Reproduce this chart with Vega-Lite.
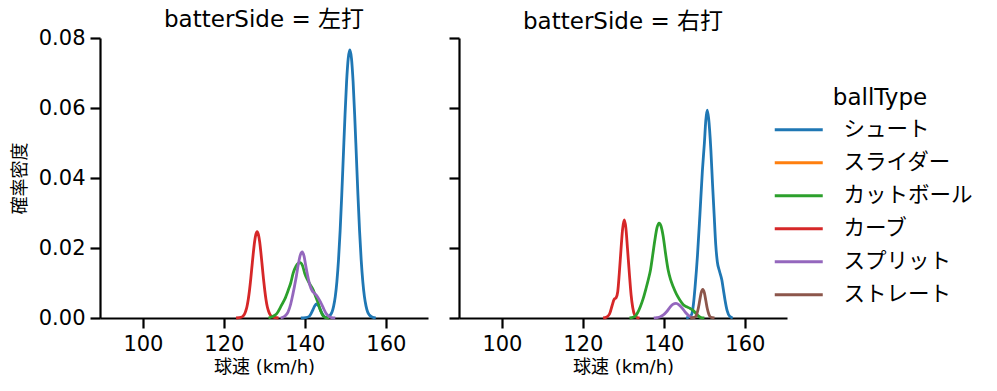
{
  "$schema": "https://vega.github.io/schema/vega-lite/v6.json",
  "padding": {"left": 11, "top": 9, "right": 5, "bottom": 5},
  "background": "white",
  "config": {
    "font": "DejaVu Sans, Noto Sans CJK JP",
    "view": {"stroke": null},
    "axis": {"domainColor": "black", "tickColor": "black", "labelColor": "black", "titleColor": "black", "domainWidth": 2.2, "tickWidth": 2.2, "tickSize": 10, "labelFontSize": 21, "titleFontSize": 18, "titleFontWeight": "normal", "grid": false, "labelPadding": 5, "zindex": 1},
    "title": {"fontSize": 23, "fontWeight": "normal", "color": "black"},
    "legend": {"orient": "none", "legendX": 688, "legendY": 49, "symbolType": "M-3,0H3", "symbolSize": 256, "symbolStrokeWidth": 2.8, "labelFontSize": 21.5, "labelColor": "black", "titleColor": "black", "titleFontSize": 23, "titleFontWeight": "normal", "labelOffset": 34, "titleAnchor": "middle", "rowPadding": 10, "titlePadding": 9}
  },
  "data": {"values": [
    {"side":"左打","type":"シュート","speed":139.0,"density":0},
    {"side":"左打","type":"シュート","speed":140.2,"density":0.0001},
    {"side":"左打","type":"シュート","speed":141.1,"density":0.0005},
    {"side":"左打","type":"シュート","speed":141.55,"density":0.0013},
    {"side":"左打","type":"シュート","speed":142.0,"density":0.0024},
    {"side":"左打","type":"シュート","speed":142.45,"density":0.0035},
    {"side":"左打","type":"シュート","speed":142.9,"density":0.0040},
    {"side":"左打","type":"シュート","speed":143.35,"density":0.0035},
    {"side":"左打","type":"シュート","speed":143.8,"density":0.0024},
    {"side":"左打","type":"シュート","speed":144.25,"density":0.0013},
    {"side":"左打","type":"シュート","speed":144.7,"density":0.0005},
    {"side":"左打","type":"シュート","speed":145.15,"density":0.0002},
    {"side":"左打","type":"シュート","speed":145.6,"density":0.0003},
    {"side":"左打","type":"シュート","speed":146.3,"density":0.0009},
    {"side":"左打","type":"シュート","speed":146.7,"density":0.0017},
    {"side":"左打","type":"シュート","speed":147.1,"density":0.0034},
    {"side":"左打","type":"シュート","speed":147.5,"density":0.0061},
    {"side":"左打","type":"シュート","speed":147.9,"density":0.0104},
    {"side":"左打","type":"シュート","speed":148.3,"density":0.0166},
    {"side":"左打","type":"シュート","speed":148.7,"density":0.0249},
    {"side":"左打","type":"シュート","speed":149.1,"density":0.0351},
    {"side":"左打","type":"シュート","speed":149.5,"density":0.0465},
    {"side":"左打","type":"シュート","speed":149.9,"density":0.0578},
    {"side":"左打","type":"シュート","speed":150.3,"density":0.0676},
    {"side":"左打","type":"シュート","speed":150.7,"density":0.0742},
    {"side":"左打","type":"シュート","speed":151.1,"density":0.0766},
    {"side":"左打","type":"シュート","speed":151.5,"density":0.0742},
    {"side":"左打","type":"シュート","speed":151.9,"density":0.0676},
    {"side":"左打","type":"シュート","speed":152.3,"density":0.0578},
    {"side":"左打","type":"シュート","speed":152.7,"density":0.0465},
    {"side":"左打","type":"シュート","speed":153.1,"density":0.0351},
    {"side":"左打","type":"シュート","speed":153.5,"density":0.0249},
    {"side":"左打","type":"シュート","speed":153.9,"density":0.0166},
    {"side":"左打","type":"シュート","speed":154.3,"density":0.0104},
    {"side":"左打","type":"シュート","speed":154.7,"density":0.0061},
    {"side":"左打","type":"シュート","speed":155.1,"density":0.0034},
    {"side":"左打","type":"シュート","speed":155.5,"density":0.0017},
    {"side":"左打","type":"シュート","speed":155.9,"density":0.0009},
    {"side":"左打","type":"シュート","speed":156.7,"density":0.0002},
    {"side":"左打","type":"シュート","speed":157.5,"density":0},

    {"side":"左打","type":"カーブ","speed":123.0,"density":0},
    {"side":"左打","type":"カーブ","speed":124.45,"density":0.0003},
    {"side":"左打","type":"カーブ","speed":124.76,"density":0.0006},
    {"side":"左打","type":"カーブ","speed":125.08,"density":0.0011},
    {"side":"左打","type":"カーブ","speed":125.39,"density":0.0020},
    {"side":"左打","type":"カーブ","speed":125.7,"density":0.0033},
    {"side":"左打","type":"カーブ","speed":126.01,"density":0.0053},
    {"side":"左打","type":"カーブ","speed":126.33,"density":0.0080},
    {"side":"左打","type":"カーブ","speed":126.64,"density":0.0113},
    {"side":"左打","type":"カーブ","speed":126.95,"density":0.0150},
    {"side":"左打","type":"カーブ","speed":127.26,"density":0.0186},
    {"side":"左打","type":"カーブ","speed":127.58,"density":0.0218},
    {"side":"左打","type":"カーブ","speed":127.89,"density":0.0239},
    {"side":"左打","type":"カーブ","speed":128.2,"density":0.0247},
    {"side":"左打","type":"カーブ","speed":128.51,"density":0.0239},
    {"side":"左打","type":"カーブ","speed":128.83,"density":0.0218},
    {"side":"左打","type":"カーブ","speed":129.14,"density":0.0186},
    {"side":"左打","type":"カーブ","speed":129.45,"density":0.0150},
    {"side":"左打","type":"カーブ","speed":129.76,"density":0.0113},
    {"side":"左打","type":"カーブ","speed":130.08,"density":0.0080},
    {"side":"左打","type":"カーブ","speed":130.39,"density":0.0053},
    {"side":"左打","type":"カーブ","speed":130.7,"density":0.0033},
    {"side":"左打","type":"カーブ","speed":131.01,"density":0.0020},
    {"side":"左打","type":"カーブ","speed":131.33,"density":0.0011},
    {"side":"左打","type":"カーブ","speed":131.64,"density":0.0006},
    {"side":"左打","type":"カーブ","speed":131.95,"density":0.0003},
    {"side":"左打","type":"カーブ","speed":133.5,"density":0},

    {"side":"左打","type":"カットボール","speed":131.0,"density":0},
    {"side":"左打","type":"カットボール","speed":132.0,"density":0.0004},
    {"side":"左打","type":"カットボール","speed":133.0,"density":0.0012},
    {"side":"左打","type":"カットボール","speed":134.25,"density":0.0037},
    {"side":"左打","type":"カットボール","speed":135.0,"density":0.0053},
    {"side":"左打","type":"カットボール","speed":135.9,"density":0.0080},
    {"side":"左打","type":"カットボール","speed":136.5,"density":0.0100},
    {"side":"左打","type":"カットボール","speed":137.1,"density":0.0128},
    {"side":"左打","type":"カットボール","speed":137.8,"density":0.0148},
    {"side":"左打","type":"カットボール","speed":138.8,"density":0.0158},
    {"side":"左打","type":"カットボール","speed":139.4,"density":0.0150},
    {"side":"左打","type":"カットボール","speed":139.95,"density":0.0128},
    {"side":"左打","type":"カットボール","speed":140.6,"density":0.0110},
    {"side":"左打","type":"カットボール","speed":141.3,"density":0.0095},
    {"side":"左打","type":"カットボール","speed":142.07,"density":0.0080},
    {"side":"左打","type":"カットボール","speed":142.7,"density":0.0060},
    {"side":"左打","type":"カットボール","speed":143.3,"density":0.0042},
    {"side":"左打","type":"カットボール","speed":143.9,"density":0.0020},
    {"side":"左打","type":"カットボール","speed":144.5,"density":0.0006},
    {"side":"左打","type":"カットボール","speed":145.2,"density":0.0001},
    {"side":"左打","type":"カットボール","speed":146.0,"density":0},

    {"side":"左打","type":"スプリット","speed":134.0,"density":0},
    {"side":"左打","type":"スプリット","speed":135.0,"density":0.0005},
    {"side":"左打","type":"スプリット","speed":135.8,"density":0.0016},
    {"side":"左打","type":"スプリット","speed":136.5,"density":0.0040},
    {"side":"左打","type":"スプリット","speed":137.0,"density":0.0066},
    {"side":"左打","type":"スプリット","speed":137.4,"density":0.0089},
    {"side":"左打","type":"スプリット","speed":137.9,"density":0.0120},
    {"side":"左打","type":"スプリット","speed":138.4,"density":0.0155},
    {"side":"左打","type":"スプリット","speed":138.9,"density":0.0181},
    {"side":"左打","type":"スプリット","speed":139.35,"density":0.0189},
    {"side":"左打","type":"スプリット","speed":139.8,"density":0.0176},
    {"side":"左打","type":"スプリット","speed":140.2,"density":0.0150},
    {"side":"左打","type":"スプリット","speed":140.7,"density":0.0120},
    {"side":"左打","type":"スプリット","speed":141.2,"density":0.0095},
    {"side":"左打","type":"スプリット","speed":141.8,"density":0.0078},
    {"side":"左打","type":"スプリット","speed":142.4,"density":0.0070},
    {"side":"左打","type":"スプリット","speed":142.9,"density":0.0064},
    {"side":"左打","type":"スプリット","speed":143.5,"density":0.0053},
    {"side":"左打","type":"スプリット","speed":144.1,"density":0.0040},
    {"side":"左打","type":"スプリット","speed":144.7,"density":0.0025},
    {"side":"左打","type":"スプリット","speed":145.3,"density":0.0012},
    {"side":"左打","type":"スプリット","speed":146.0,"density":0.0004},
    {"side":"左打","type":"スプリット","speed":146.6,"density":0.0001},
    {"side":"左打","type":"スプリット","speed":147.5,"density":0},

    {"side":"右打","type":"シュート","speed":145.5,"density":0},
    {"side":"右打","type":"シュート","speed":146.3,"density":0.0003},
    {"side":"右打","type":"シュート","speed":146.85,"density":0.0010},
    {"side":"右打","type":"シュート","speed":147.3,"density":0.0040},
    {"side":"右打","type":"シュート","speed":147.7,"density":0.0089},
    {"side":"右打","type":"シュート","speed":148.3,"density":0.0180},
    {"side":"右打","type":"シュート","speed":148.9,"density":0.0297},
    {"side":"右打","type":"シュート","speed":149.5,"density":0.0420},
    {"side":"右打","type":"シュート","speed":150.0,"density":0.0500},
    {"side":"右打","type":"シュート","speed":150.35,"density":0.0565},
    {"side":"右打","type":"シュート","speed":150.7,"density":0.0594},
    {"side":"右打","type":"シュート","speed":151.05,"density":0.0570},
    {"side":"右打","type":"シュート","speed":151.6,"density":0.0480},
    {"side":"右打","type":"シュート","speed":152.0,"density":0.0385},
    {"side":"右打","type":"シュート","speed":152.4,"density":0.0297},
    {"side":"右打","type":"シュート","speed":152.8,"density":0.0210},
    {"side":"右打","type":"シュート","speed":153.2,"density":0.0160},
    {"side":"右打","type":"シュート","speed":153.7,"density":0.0135},
    {"side":"右打","type":"シュート","speed":154.3,"density":0.0109},
    {"side":"右打","type":"シュート","speed":154.7,"density":0.0080},
    {"side":"右打","type":"シュート","speed":155.1,"density":0.0051},
    {"side":"右打","type":"シュート","speed":155.6,"density":0.0022},
    {"side":"右打","type":"シュート","speed":156.3,"density":0.0004},
    {"side":"右打","type":"シュート","speed":157.0,"density":0},

    {"side":"右打","type":"カーブ","speed":125.0,"density":0},
    {"side":"右打","type":"カーブ","speed":125.9,"density":0.0003},
    {"side":"右打","type":"カーブ","speed":126.6,"density":0.0012},
    {"side":"右打","type":"カーブ","speed":127.2,"density":0.0035},
    {"side":"右打","type":"カーブ","speed":127.7,"density":0.0053},
    {"side":"右打","type":"カーブ","speed":128.2,"density":0.0058},
    {"side":"右打","type":"カーブ","speed":128.6,"density":0.0075},
    {"side":"右打","type":"カーブ","speed":129.0,"density":0.0130},
    {"side":"右打","type":"カーブ","speed":129.4,"density":0.0195},
    {"side":"右打","type":"カーブ","speed":129.8,"density":0.0254},
    {"side":"右打","type":"カーブ","speed":130.2,"density":0.0280},
    {"side":"右打","type":"カーブ","speed":130.6,"density":0.0258},
    {"side":"右打","type":"カーブ","speed":131.0,"density":0.0200},
    {"side":"右打","type":"カーブ","speed":131.45,"density":0.0130},
    {"side":"右打","type":"カーブ","speed":131.9,"density":0.0066},
    {"side":"右打","type":"カーブ","speed":132.3,"density":0.0030},
    {"side":"右打","type":"カーブ","speed":132.8,"density":0.0008},
    {"side":"右打","type":"カーブ","speed":133.4,"density":0.0001},
    {"side":"右打","type":"カーブ","speed":134.0,"density":0},

    {"side":"右打","type":"カットボール","speed":131.5,"density":0},
    {"side":"右打","type":"カットボール","speed":132.4,"density":0.0002},
    {"side":"右打","type":"カットボール","speed":132.9,"density":0.0005},
    {"side":"右打","type":"カットボール","speed":133.5,"density":0.0015},
    {"side":"右打","type":"カットボール","speed":134.2,"density":0.0033},
    {"side":"右打","type":"カットボール","speed":134.9,"density":0.0056},
    {"side":"右打","type":"カットボール","speed":135.6,"density":0.0085},
    {"side":"右打","type":"カットボール","speed":136.2,"density":0.0112},
    {"side":"右打","type":"カットボール","speed":136.7,"density":0.0138},
    {"side":"右打","type":"カットボール","speed":137.3,"density":0.0185},
    {"side":"右打","type":"カットボール","speed":137.8,"density":0.0225},
    {"side":"右打","type":"カットボール","speed":138.3,"density":0.0258},
    {"side":"右打","type":"カットボール","speed":138.8,"density":0.0271},
    {"side":"右打","type":"カットボール","speed":139.3,"density":0.0262},
    {"side":"右打","type":"カットボール","speed":139.8,"density":0.0235},
    {"side":"右打","type":"カットボール","speed":140.4,"density":0.0185},
    {"side":"右打","type":"カットボール","speed":141.05,"density":0.0137},
    {"side":"右打","type":"カットボール","speed":141.7,"density":0.0108},
    {"side":"右打","type":"カットボール","speed":142.3,"density":0.0089},
    {"side":"右打","type":"カットボール","speed":143.1,"density":0.0068},
    {"side":"右打","type":"カットボール","speed":143.97,"density":0.0051},
    {"side":"右打","type":"カットボール","speed":144.8,"density":0.0038},
    {"side":"右打","type":"カットボール","speed":145.6,"density":0.0032},
    {"side":"右打","type":"カットボール","speed":146.4,"density":0.0028},
    {"side":"右打","type":"カットボール","speed":147.25,"density":0.0021},
    {"side":"右打","type":"カットボール","speed":148.0,"density":0.0012},
    {"side":"右打","type":"カットボール","speed":148.5,"density":0.0006},
    {"side":"右打","type":"カットボール","speed":149.2,"density":0.0001},
    {"side":"右打","type":"カットボール","speed":150.0,"density":0},

    {"side":"右打","type":"スプリット","speed":137.5,"density":0},
    {"side":"右打","type":"スプリット","speed":138.2,"density":0.0001},
    {"side":"右打","type":"スプリット","speed":139.0,"density":0.0003},
    {"side":"右打","type":"スプリット","speed":139.8,"density":0.0008},
    {"side":"右打","type":"スプリット","speed":140.6,"density":0.0017},
    {"side":"右打","type":"スプリット","speed":141.4,"density":0.0029},
    {"side":"右打","type":"スプリット","speed":142.2,"density":0.0039},
    {"side":"右打","type":"スプリット","speed":143.0,"density":0.0042},
    {"side":"右打","type":"スプリット","speed":143.8,"density":0.0037},
    {"side":"右打","type":"スプリット","speed":144.6,"density":0.0027},
    {"side":"右打","type":"スプリット","speed":145.4,"density":0.0015},
    {"side":"右打","type":"スプリット","speed":146.2,"density":0.0006},
    {"side":"右打","type":"スプリット","speed":146.85,"density":0.0002},
    {"side":"右打","type":"スプリット","speed":147.5,"density":0},

    {"side":"右打","type":"ストレート","speed":146.5,"density":0},
    {"side":"右打","type":"ストレート","speed":147.6,"density":0.0002},
    {"side":"右打","type":"ストレート","speed":148.1,"density":0.0011},
    {"side":"右打","type":"ストレート","speed":148.5,"density":0.0028},
    {"side":"右打","type":"ストレート","speed":148.85,"density":0.0050},
    {"side":"右打","type":"ストレート","speed":149.2,"density":0.0072},
    {"side":"右打","type":"ストレート","speed":149.6,"density":0.0082},
    {"side":"右打","type":"ストレート","speed":150.0,"density":0.0072},
    {"side":"右打","type":"ストレート","speed":150.35,"density":0.0050},
    {"side":"右打","type":"ストレート","speed":150.7,"density":0.0028},
    {"side":"右打","type":"ストレート","speed":151.1,"density":0.0011},
    {"side":"右打","type":"ストレート","speed":151.6,"density":0.0002},
    {"side":"右打","type":"ストレート","speed":152.5,"density":0}
  ]},
  "spacing": 19,
  "hconcat": [
    {
      "width": 328, "height": 280,
      "title": {"text": "batterSide = 左打", "offset": -5},
      "transform": [{"filter": "datum.side === '左打'"}],
      "mark": {"type": "line", "strokeWidth": 2.8, "interpolate": "monotone"},
      "encoding": {
        "x": {"field": "speed", "type": "quantitative", "scale": {"domain": [89.4, 170.4], "nice": false, "zero": false}, "axis": {"values": [100, 120, 140, 160], "title": "球速 (km/h)"}},
        "y": {"field": "density", "type": "quantitative", "scale": {"domain": [0, 0.08], "nice": false}, "axis": {"values": [0, 0.02, 0.04, 0.06, 0.08], "format": ".2f", "title": "確率密度", "titlePadding": 9}},
        "color": {"field": "type", "type": "nominal", "title": "ballType", "scale": {"domain": ["シュート", "スライダー", "カットボール", "カーブ", "スプリット", "ストレート"], "range": ["#1f77b4", "#ff7f0e", "#2ca02c", "#d62728", "#9467bd", "#8c564b"]}}
      }
    },
    {
      "width": 328, "height": 280,
      "title": {"text": "batterSide = 右打", "offset": 3},
      "transform": [{"filter": "datum.side === '右打'"}],
      "mark": {"type": "line", "strokeWidth": 2.8, "interpolate": "monotone"},
      "encoding": {
        "x": {"field": "speed", "type": "quantitative", "scale": {"domain": [89.4, 170.4], "nice": false, "zero": false}, "axis": {"values": [100, 120, 140, 160], "title": "球速 (km/h)"}},
        "y": {"field": "density", "type": "quantitative", "scale": {"domain": [0, 0.08], "nice": false}, "axis": {"values": [0, 0.02, 0.04, 0.06, 0.08], "labels": false, "title": null}},
        "color": {"field": "type", "type": "nominal", "title": "ballType", "scale": {"domain": ["シュート", "スライダー", "カットボール", "カーブ", "スプリット", "ストレート"], "range": ["#1f77b4", "#ff7f0e", "#2ca02c", "#d62728", "#9467bd", "#8c564b"]}}
      }
    }
  ]
}
